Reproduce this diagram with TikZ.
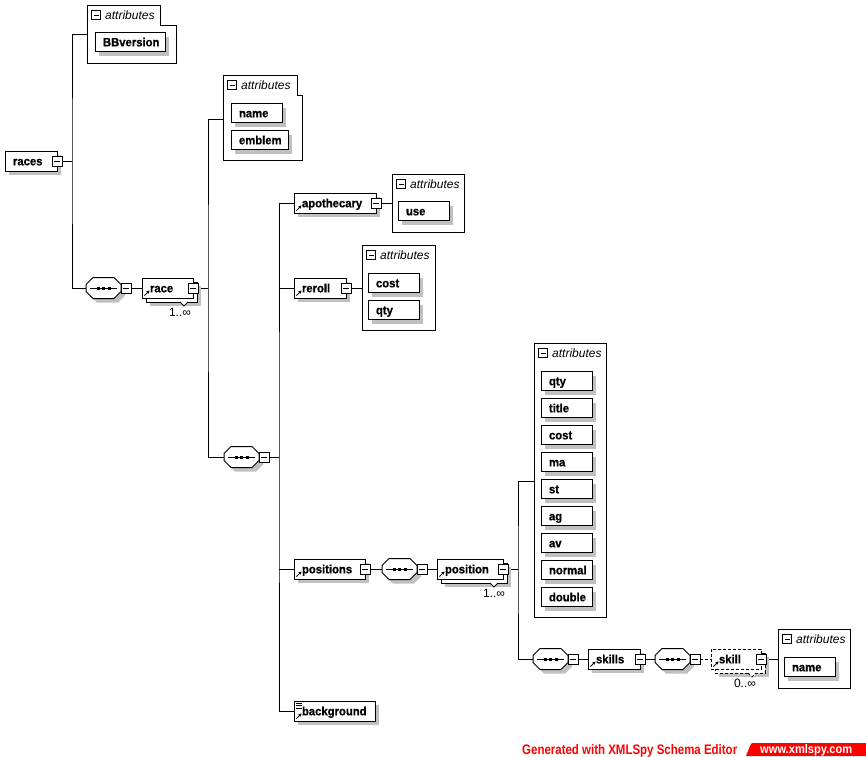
\documentclass[tikz,border=0pt]{standalone}
\usepackage{fontspec}
\setmainfont{Liberation Sans}
\newfontfamily\elfam[FakeStretch=0.94, BoldFeatures={FakeBold=0.8}]{Liberation Sans}
\usepackage{graphicx}
\usetikzlibrary{shadows,arrows.meta,backgrounds}
\definecolor{shadowgray}{RGB}{192,192,192}
\definecolor{xred}{RGB}{255,0,0}
\newcommand\elfont{\elfam\fontsize{12pt}{14pt}\selectfont\bfseries}
\newcommand\atfont{\fontsize{12pt}{14pt}\selectfont\itshape}
\newcommand\mulfont{\fontsize{12pt}{14pt}\selectfont}
\tikzset{
  lw/.style={line width=1pt},
  conn/.style={line width=1pt},
  elbox/.style={draw, fill=white, line width=1pt, inner xsep=8pt, inner ysep=0pt, outer sep=0pt,
    minimum height=20pt, text height=8.6pt, text depth=0pt, font=\elfont, anchor=west, align=left},
  itembox/.style={elbox, minimum height=19pt},
  sh/.style={drop shadow={shadow xshift=4pt, shadow yshift=-4pt, fill=shadowgray, opacity=1}},
  minusbox/.style={draw, fill=white, line width=1pt, minimum size=#1, inner sep=0pt, outer sep=0pt,
    path picture={\draw[line width=1pt] ([xshift=2pt]path picture bounding box.west) -- ([xshift=-2pt]path picture bounding box.east);}},
  minusbox/.default=10pt,
  container/.style={draw, line width=1pt, inner sep=0pt, outer sep=0pt, anchor=north west},
  dsh/.style={dash pattern=on 3pt off 2pt},
}
\newcommand\El[6][]{%
  \pgfmathsetmacro\eltw{#4-#3-16}%
  \node[elbox,#1,text width=\eltw pt] (#2) at (#3,#5) {#6};}
\newcommand\Item[5]{%
  \pgfmathsetmacro\eltw{#3-#2-16}%
  \node[itembox,sh,text width=\eltw pt] (#1) at (#2,#4) {#5};}
\newcommand\Ic[1]{\draw[line width=1pt,-{Stealth[length=3pt,width=3.5pt]}] ([xshift=2.5pt,yshift=2.5pt]#1.south west) -- ([xshift=7.5pt,yshift=7.5pt]#1.south west);}
\newcommand\Back[4][]{\draw[lw, fill=white, sh, #1] ({#2+4},{#4-6}) rectangle ({#3+4},{#4+14});
  \draw[lw, fill=white, #1] ({#3-13},{#4+14}) -- ({#3-9},{#4+18}) -- ({#3-5},{#4+14});}
\newcommand\octpath{(7,-10.5) -- (28,-10.5) -- (35,-3.5) -- (35,3.5) -- (28,10.5) -- (7,10.5) -- (0,3.5) -- (0,-3.5) -- cycle}
\newcommand\Seq[3]{%
  \begin{scope}[shift={(#2,#3)}]
    \coordinate (#1-w) at (0,0);
    \fill[shadowgray, shift={(4,4)}] \octpath;
    \draw[lw, fill=white] \octpath;
    \draw[lw] (4,0) -- (31,0);
    \foreach \d in {12,17.5,23} \fill ({\d-1.5},-1.5) rectangle ({\d+1.5},1.5);
    \node[minusbox] (#1-m) at (40,0) {};
  \end{scope}}
\newcommand\Hdr[3]{%
  \node[minusbox=9pt] (#1-hm) at ({#2+9},{#3+10}) {};
  \node[font=\atfont, anchor=base west, inner sep=0pt] (#1-ht) at ({#2+18},{#3+14.5}) {attributes};}
\begin{document}
\begin{tikzpicture}[x=1pt,y=-1pt]
\useasboundingbox (0,0) rectangle (866,756);
% ---------- attribute containers ----------
\draw[lw] (87,5) -- (160,5) -- (160,25) -- (176,25) -- (176,63) -- (87,63) -- cycle;
\coordinate (A1in) at (87,34);
\Hdr{A1}{87}{5}
\Item{BBv}{95}{165}{42}{BBversion}

\draw[lw] (223,75) -- (297,75) -- (297,95) -- (302,95) -- (302,160) -- (223,160) -- cycle;
\coordinate (A2in) at (223,119);
\Hdr{A2}{223}{75}
\Item{rname}{231}{282}{113}{name}
\Item{remblem}{231}{288}{140}{emblem}

\node[container, minimum width=72pt, minimum height=58pt] (A3) at (392,174) {};
\Hdr{A3}{392}{174}
\Item{ause}{398}{449}{211}{use}

\node[container, minimum width=73pt, minimum height=85pt] (A4) at (362,245) {};
\Hdr{A4}{362}{245}
\Item{rcost}{368}{419}{283}{cost}
\Item{rqty}{368}{419}{310}{qty}

\node[container, minimum width=72pt, minimum height=274pt] (A5) at (534,343) {};
\coordinate (A5in) at (534,481);
\Hdr{A5}{534}{343}
\Item{pqty}{541}{592}{381}{qty}
\Item{ptitle}{541}{592}{408}{title}
\Item{pcost}{541}{592}{435}{cost}
\Item{pma}{541}{592}{462}{ma}
\Item{pst}{541}{592}{489}{st}
\Item{pag}{541}{592}{516}{ag}
\Item{pav}{541}{592}{543}{av}
\Item{pnormal}{541}{592}{570}{normal}
\Item{pdouble}{541}{592}{597}{double}

\node[container, minimum width=72pt, minimum height=59pt] (A6) at (778,629) {};
\Hdr{A6}{778}{629}
\Item{sname}{784}{835}{667}{name}

% ---------- elements ----------
\El[sh]{races}{5}{57}{161}{races}
\node[minusbox] (races-m) at (races.east) {};

\Seq{s1}{86}{288}
\Back{142}{193}{288}
\El{race}{142}{193}{288}{race}
\Ic{race}
\node[minusbox] (race-m) at (race.east) {};
\node[font=\mulfont, inner sep=0pt] (race-mul) at (180,312) {1..∞};

\Seq{s2}{224}{457}

\El[sh]{apothecary}{294}{376}{203}{apothecary}
\Ic{apothecary}
\node[minusbox] (apothecary-m) at (apothecary.east) {};

\El[sh]{reroll}{294}{346}{288}{reroll}
\Ic{reroll}
\node[minusbox] (reroll-m) at (reroll.east) {};

\El[sh]{positions}{294}{365}{569}{positions}
\Ic{positions}
\node[minusbox] (positions-m) at (positions.east) {};

\Seq{s3}{382}{569}
\Back{437}{503}{569}
\El{position}{437}{503}{569}{position}
\Ic{position}
\node[minusbox] (position-m) at (position.east) {};
\node[font=\mulfont, inner sep=0pt] (position-mul) at (494,593) {1..∞};

\Seq{s4}{533}{659}
\El[sh]{skills}{588}{640}{659}{skills}
\Ic{skills}
\node[minusbox] (skills-m) at (skills.east) {};

\Seq{s5}{655}{659}
\Back[dsh]{711}{761}{659}
\El[dsh]{skill}{711}{761}{659}{skill}
\Ic{skill}
\node[minusbox] (skill-m) at (skill.east) {};
\node[font=\mulfont, inner sep=0pt] (skill-mul) at (745,683) {0..∞};

\El[sh]{background}{294}{375}{711}{background}
\Ic{background}
\foreach \o in {2,4.5,7}
  \draw[lw] ([xshift=2pt,yshift=-\o pt]background.north west) -- ++(6pt,0);

% ---------- connectors ----------
\begin{pgfonlayer}{background}
\coordinate (b1) at (72,161);
\coordinate (b2) at (208,288);
\coordinate (b3) at (279,457);
\coordinate (b4) at (518,569);
\draw[conn] (A1in) -| (b1) |- (s1-w);
\draw[conn] (races-m.east) -- (b1);
\draw[conn] (s1-m.east) -- (race.west);
\draw[conn] (A2in) -| (b2) |- (s2-w);
\draw[conn] (race-m.east) -- (b2);
\draw[conn] (apothecary.west) -| (b3) |- (background.west);
\draw[conn] (s2-m.east) -- (b3);
\draw[conn] (reroll.west) -- (reroll.west -| b3);
\draw[conn] (positions.west) -- (positions.west -| b3);
\draw[conn] (apothecary-m.east) -- (A3.west |- apothecary-m);
\draw[conn] (reroll-m.east) -- (A4.west |- reroll-m);
\draw[conn] (positions-m.east) -- (s3-w);
\draw[conn] (s3-m.east) -- (position.west);
\draw[conn] (A5in) -| (b4) |- (s4-w);
\draw[conn] (position-m.east) -- (b4);
\draw[conn] (s4-m.east) -- (skills.west);
\draw[conn] (skills-m.east) -- (s5-w);
\draw[conn, dsh] (s5-m.east) -- (skill.west);
\draw[conn] (skill-m.east) -- (A6.west |- skill-m);
\end{pgfonlayer}

% ---------- footer ----------
\node[anchor=base west, inner sep=0pt, text=xred] (gen) at (522,754)
  {\resizebox{215pt}{10pt}{\bfseries Generated with XMLSpy Schema Editor}};
\fill[xred] (746,756) -- (750,746) .. controls (751,743) .. (756,743) -- (866,743) -- (866,756) -- cycle;
\node[anchor=base west, inner sep=0pt, text=white] (url) at (760,753)
  {\resizebox{92pt}{9pt}{\bfseries www.xmlspy.com}};
\end{tikzpicture}
\end{document}
